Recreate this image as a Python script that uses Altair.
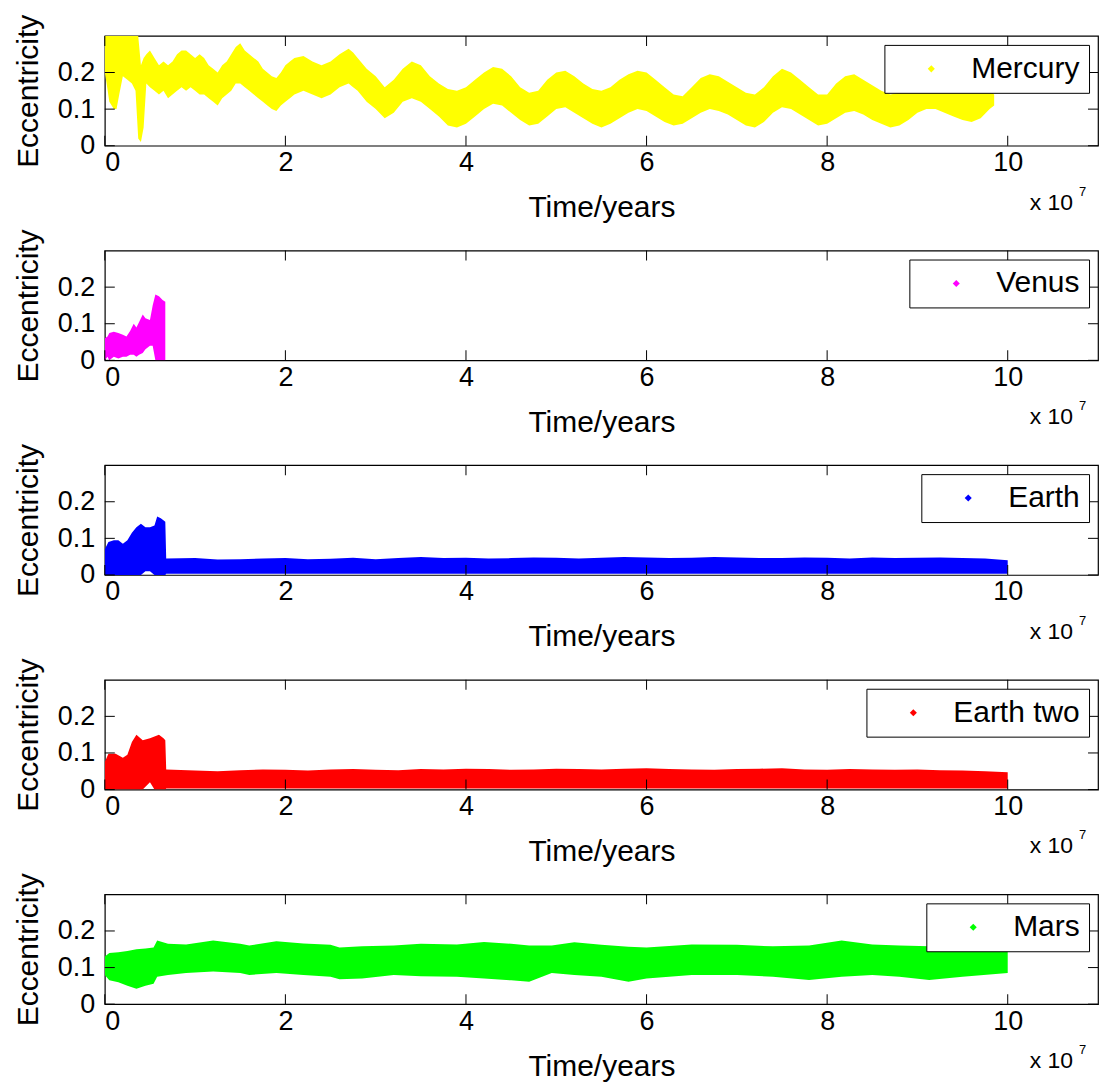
import altair as alt
import pandas as pd

# ---------------- data (time in units of 1e7 years) ----------------
mercury_t = [0.00, 0.02, 0.05, 0.10, 0.13, 0.16, 0.20, 0.25, 0.30, 0.34, 0.37, 0.40, 0.43, 0.46,
             0.50, 0.55, 0.60, 0.65, 0.70, 0.75, 0.80, 0.85, 0.90, 0.95, 1.00, 1.05, 1.10, 1.15,
             1.20, 1.25, 1.30, 1.35, 1.40, 1.45, 1.50, 1.55, 1.60, 1.65, 1.70, 1.75, 1.80, 1.85,
             1.90, 1.95, 2.00, 2.05, 2.10, 2.20, 2.30, 2.40, 2.50, 2.60, 2.70, 2.75, 2.80, 2.90,
             3.00, 3.10, 3.20, 3.30, 3.40, 3.50, 3.60, 3.70, 3.80, 3.90, 4.00, 4.10, 4.20, 4.30,
             4.40, 4.50, 4.60, 4.70, 4.80, 4.90, 5.00, 5.10, 5.20, 5.30, 5.40, 5.50, 5.60, 5.70,
             5.80, 5.90, 6.00, 6.10, 6.20, 6.30, 6.40, 6.50, 6.60, 6.70, 6.80, 6.90, 7.00, 7.10,
             7.20, 7.30, 7.40, 7.50, 7.60, 7.70, 7.80, 7.90, 8.00, 8.10, 8.20, 8.30, 8.40, 8.50,
             8.60, 8.70, 8.80, 8.90, 9.00, 9.10, 9.20, 9.30, 9.40, 9.50, 9.60, 9.70, 9.80, 9.85]
mercury_lo = [0.20, 0.17, 0.12, 0.10, 0.10, 0.14, 0.19, 0.18, 0.17, 0.15, 0.02, 0.01, 0.05, 0.17,
              0.16, 0.15, 0.14, 0.15, 0.13, 0.14, 0.15, 0.16, 0.15, 0.16, 0.15, 0.14, 0.14, 0.13,
              0.12, 0.11, 0.13, 0.14, 0.15, 0.17, 0.17, 0.16, 0.15, 0.14, 0.13, 0.12, 0.11, 0.10,
              0.095, 0.11, 0.12, 0.13, 0.14, 0.15, 0.14, 0.13, 0.14, 0.16, 0.17, 0.16, 0.15, 0.12,
              0.10, 0.075, 0.09, 0.12, 0.13, 0.12, 0.10, 0.08, 0.055, 0.05, 0.06, 0.08, 0.10, 0.115,
              0.11, 0.09, 0.07, 0.055, 0.06, 0.08, 0.10, 0.105, 0.09, 0.075, 0.06, 0.05, 0.06, 0.075,
              0.09, 0.10, 0.095, 0.08, 0.065, 0.055, 0.06, 0.075, 0.09, 0.10, 0.095, 0.085, 0.07, 0.055,
              0.05, 0.065, 0.09, 0.105, 0.10, 0.085, 0.07, 0.055, 0.06, 0.075, 0.09, 0.095, 0.085, 0.07,
              0.06, 0.05, 0.055, 0.07, 0.09, 0.10, 0.10, 0.09, 0.08, 0.07, 0.065, 0.075, 0.10, 0.11]
mercury_hi = [0.30, 0.30, 0.30, 0.30, 0.30, 0.30, 0.30, 0.30, 0.30, 0.30, 0.30, 0.22, 0.24, 0.25,
              0.26, 0.24, 0.22, 0.23, 0.22, 0.23, 0.25, 0.26, 0.26, 0.25, 0.24, 0.25, 0.24, 0.22,
              0.21, 0.20, 0.22, 0.23, 0.25, 0.27, 0.28, 0.26, 0.25, 0.24, 0.23, 0.21, 0.20, 0.19,
              0.185, 0.20, 0.22, 0.23, 0.24, 0.245, 0.23, 0.22, 0.23, 0.25, 0.265, 0.255, 0.24, 0.21,
              0.19, 0.16, 0.18, 0.21, 0.23, 0.22, 0.19, 0.17, 0.155, 0.15, 0.16, 0.18, 0.20, 0.215,
              0.21, 0.19, 0.16, 0.145, 0.15, 0.18, 0.20, 0.205, 0.19, 0.17, 0.155, 0.15, 0.16, 0.18,
              0.195, 0.205, 0.20, 0.18, 0.16, 0.14, 0.135, 0.16, 0.185, 0.195, 0.19, 0.175, 0.16, 0.145,
              0.14, 0.16, 0.19, 0.21, 0.20, 0.18, 0.16, 0.14, 0.14, 0.17, 0.19, 0.195, 0.18, 0.165,
              0.15, 0.14, 0.145, 0.16, 0.175, 0.185, 0.18, 0.17, 0.165, 0.16, 0.155, 0.155, 0.15, 0.14]

venus_t = [0.00, 0.03, 0.05, 0.10, 0.15, 0.20, 0.24, 0.28, 0.32, 0.35, 0.38, 0.42, 0.45, 0.50,
           0.53, 0.56, 0.60, 0.64, 0.67]
venus_lo = [0.00, 0.01, 0.00, 0.01, 0.005, 0.01, 0.01, 0.015, 0.015, 0.01, 0.015, 0.02, 0.03, 0.04,
            0.04, 0.00, 0.00, 0.00, 0.00]
venus_hi = [0.06, 0.065, 0.075, 0.078, 0.075, 0.07, 0.065, 0.08, 0.10, 0.09, 0.105, 0.125, 0.115, 0.11,
            0.15, 0.18, 0.175, 0.165, 0.16]

earth_t = [0.00, 0.04, 0.10, 0.15, 0.20, 0.25, 0.30, 0.35, 0.40, 0.45, 0.50, 0.55, 0.58, 0.62, 0.67,
           0.68, 1.00, 1.25, 1.50, 1.75, 2.00, 2.25, 2.50, 2.75, 3.00, 3.25, 3.50, 3.75, 4.00,
           4.25, 4.50, 4.75, 5.00, 5.25, 5.50, 5.75, 6.00, 6.25, 6.50, 6.75, 7.00, 7.25, 7.50,
           7.75, 8.00, 8.25, 8.50, 8.75, 9.00, 9.25, 9.50, 9.75, 10.00]
earth_lo = [0.00, 0.00, 0.00, 0.00, 0.00, 0.00, 0.00, 0.00, 0.00, 0.01, 0.01, 0.00, 0.00, 0.00, 0.00,
            0.003, 0.003, 0.003, 0.003, 0.003, 0.003, 0.003, 0.003, 0.003, 0.003, 0.003, 0.003, 0.003, 0.003,
            0.003, 0.003, 0.003, 0.003, 0.003, 0.003, 0.003, 0.003, 0.003, 0.003, 0.003, 0.003, 0.003, 0.003,
            0.003, 0.003, 0.003, 0.003, 0.003, 0.003, 0.003, 0.003, 0.003, 0.003]
earth_hi = [0.07, 0.09, 0.095, 0.095, 0.085, 0.095, 0.115, 0.13, 0.14, 0.13, 0.13, 0.135, 0.16, 0.155, 0.145,
            0.045, 0.046, 0.042, 0.043, 0.045, 0.046, 0.043, 0.044, 0.047, 0.043, 0.046, 0.049, 0.046, 0.047,
            0.045, 0.046, 0.048, 0.047, 0.045, 0.047, 0.049, 0.048, 0.046, 0.047, 0.049, 0.048, 0.046, 0.046,
            0.048, 0.047, 0.045, 0.048, 0.046, 0.047, 0.048, 0.046, 0.045, 0.040]

earth2_t = [0.00, 0.04, 0.12, 0.20, 0.25, 0.30, 0.35, 0.42, 0.50, 0.55, 0.60, 0.65, 0.67,
            0.68, 1.00, 1.25, 1.50, 1.75, 2.00, 2.25, 2.50, 2.75, 3.00, 3.25, 3.50, 3.75, 4.00,
            4.25, 4.50, 4.75, 5.00, 5.25, 5.50, 5.75, 6.00, 6.25, 6.50, 6.75, 7.00, 7.25, 7.50,
            7.75, 8.00, 8.25, 8.50, 8.75, 9.00, 9.25, 9.50, 9.75, 10.00]
earth2_lo = [0.00, 0.00, 0.00, 0.00, 0.00, 0.00, 0.00, 0.00, 0.02, 0.00, 0.00, 0.00, 0.00,
             0.003, 0.003, 0.003, 0.003, 0.003, 0.003, 0.003, 0.003, 0.003, 0.003, 0.003, 0.003, 0.003, 0.003,
             0.003, 0.003, 0.003, 0.003, 0.003, 0.003, 0.003, 0.003, 0.003, 0.003, 0.003, 0.003, 0.003, 0.003,
             0.003, 0.003, 0.003, 0.003, 0.003, 0.003, 0.003, 0.003, 0.003, 0.003]
earth2_hi = [0.075, 0.098, 0.098, 0.087, 0.095, 0.13, 0.15, 0.135, 0.14, 0.145, 0.15, 0.14, 0.135,
             0.055, 0.052, 0.050, 0.053, 0.055, 0.054, 0.052, 0.055, 0.056, 0.054, 0.053, 0.056, 0.055, 0.057,
             0.056, 0.054, 0.055, 0.057, 0.056, 0.055, 0.057, 0.058, 0.056, 0.055, 0.054, 0.056, 0.057, 0.058,
             0.055, 0.054, 0.056, 0.055, 0.054, 0.055, 0.053, 0.052, 0.050, 0.047]

mars_t = [0.00, 0.05, 0.15, 0.25, 0.35, 0.45, 0.54, 0.58, 0.70, 0.90, 1.20, 1.50, 1.60, 1.90,
          2.20, 2.50, 2.60, 2.85, 3.20, 3.50, 3.90, 4.20, 4.50, 4.70, 4.95, 5.20, 5.50, 5.80,
          6.00, 6.50, 7.00, 7.40, 7.80, 8.16, 8.50, 8.80, 9.13, 9.50, 10.00]
mars_lo = [0.08, 0.065, 0.06, 0.05, 0.042, 0.05, 0.056, 0.075, 0.08, 0.085, 0.089, 0.085, 0.08, 0.085,
           0.08, 0.075, 0.068, 0.07, 0.08, 0.076, 0.075, 0.07, 0.065, 0.061, 0.085, 0.08, 0.075, 0.061,
           0.07, 0.08, 0.08, 0.075, 0.066, 0.075, 0.08, 0.075, 0.066, 0.075, 0.085]
mars_hi = [0.13, 0.14, 0.142, 0.145, 0.15, 0.152, 0.155, 0.174, 0.165, 0.163, 0.174, 0.165, 0.16, 0.172,
           0.166, 0.162, 0.155, 0.158, 0.16, 0.165, 0.163, 0.17, 0.165, 0.16, 0.16, 0.169, 0.162, 0.157,
           0.155, 0.163, 0.162, 0.158, 0.16, 0.174, 0.163, 0.16, 0.158, 0.155, 0.15]

names = ["Mercury", "Venus", "Earth", "Earth two", "Mars"]
colors = ["#ffff00", "#ff00ff", "#0000ff", "#ff0000", "#00ff00"]
series = [(mercury_t, mercury_lo, mercury_hi), (venus_t, venus_lo, venus_hi),
          (earth_t, earth_lo, earth_hi), (earth2_t, earth2_lo, earth2_hi),
          (mars_t, mars_lo, mars_hi)]

x_ticks = [0, 2e7, 4e7, 6e7, 8e7, 10e7]
y_ticks = [0, 0.1, 0.2]

W, H = 995, 110
TL = 10  # inward tick length in px
FONT = "Liberation Sans"

x_scale = alt.Scale(domain=[0, 1.1e8], nice=False, zero=False)
y_scale = alt.Scale(domain=[0, 0.3], nice=False, zero=False)

x_axis = alt.Axis(values=x_ticks, title="Time/years", ticks=False, tickSize=0,
                  domain=False, grid=False, labelExpr="format(datum.value / 1e7, 'd')",
                  labelFontSize=27, labelFont=FONT, labelColor="black", labelPadding=4,
                  titleFontSize=30, titleFont=FONT, titleFontWeight="normal",
                  titleColor="black", titlePadding=17)
y_axis = alt.Axis(values=y_ticks, title="Eccentricity", ticks=False, tickSize=0,
                  domain=False, grid=False,
                  labelExpr="datum.value == 0 ? '0' : format(datum.value, '.1f')",
                  labelFontSize=27, labelFont=FONT, labelColor="black", labelPadding=10,
                  titleFontSize=30, titleFont=FONT, titleFontWeight="normal",
                  titleColor="black", titlePadding=14)

xt = pd.DataFrame({"t": x_ticks})
yt = pd.DataFrame({"e": y_ticks})


def panel(name, color, s):
    t, lo, hi = s
    df = pd.DataFrame({"time": [v * 1e7 for v in t], "lo": lo, "hi": hi, "planet": name})
    area = alt.Chart(df).mark_area(clip=True, opacity=1).encode(
        x=alt.X("time:Q", scale=x_scale, axis=x_axis),
        y=alt.Y("lo:Q", scale=y_scale, axis=y_axis),
        y2="hi:Q",
        color=alt.Color("planet:N", scale=alt.Scale(domain=[name], range=[color]),
                        legend=alt.Legend(title=None, orient="top-right", offset=9,
                                          fillColor="white", strokeColor="black", padding=9,
                                          symbolType="diamond", symbolSize=50, symbolStrokeWidth=0,
                                          symbolOffset=23, labelOffset=25,
                                          labelFontSize=30, labelFont=FONT, labelColor="black",
                                          cornerRadius=0)),
    )
    bt = alt.Chart(xt).mark_tick(color="black", thickness=1, size=TL, opacity=1).encode(
        x=alt.X("t:Q", scale=x_scale, axis=x_axis), y=alt.value(H - TL / 2))
    tt = alt.Chart(xt).mark_tick(color="black", thickness=1, size=TL, opacity=1).encode(
        x=alt.X("t:Q", scale=x_scale, axis=x_axis), y=alt.value(TL / 2))
    lt = alt.Chart(yt).mark_tick(color="black", thickness=1, size=TL, opacity=1).encode(
        y=alt.Y("e:Q", scale=y_scale, axis=y_axis), x=alt.value(TL / 2))
    rt = alt.Chart(yt).mark_tick(color="black", thickness=1, size=TL, opacity=1).encode(
        y=alt.Y("e:Q", scale=y_scale, axis=y_axis), x=alt.value(W - TL / 2))
    mult = alt.Chart(pd.DataFrame({"s": ["x 10"]})).mark_text(
        font=FONT, fontSize=23, color="black", align="right", baseline="alphabetic").encode(
        text="s:N", x=alt.value(W - 25), y=alt.value(H + 64))
    expo = alt.Chart(pd.DataFrame({"s": ["7"]})).mark_text(
        font=FONT, fontSize=13, color="black", align="left", baseline="alphabetic").encode(
        text="s:N", x=alt.value(W - 19), y=alt.value(H + 50))
    return alt.layer(area, bt, tt, lt, rt, mult, expo).properties(width=W, height=H)


chart = alt.vconcat(*[panel(n, c, s) for n, c, s in zip(names, colors, series)],
                    spacing=105, bounds="flush").resolve_scale(color="independent").properties(
    padding={"left": 12, "top": 12, "right": 2, "bottom": 5},
    background="white",
).configure_view(stroke="black", strokeWidth=1.2)

chart.save("out.html", embed_options={"renderer": "svg", "actions": False})
